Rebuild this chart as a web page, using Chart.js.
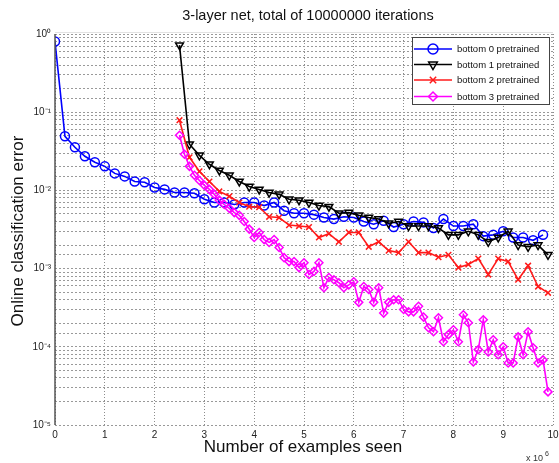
<!DOCTYPE html>
<html>
<head>
<meta charset="utf-8">
<script src="https://cdn.jsdelivr.net/npm/chart.js@4/dist/chart.umd.min.js"></script>
<style>
  body { margin: 0; background: #fff; }
  canvas { display: block; }
</style>
</head>
<body>
<canvas id="myChart" width="559" height="463"></canvas>
<script>
// x positions are in units of 10^6 examples
const bottom0X = [0, 0.2, 0.4, 0.6, 0.8, 1, 1.2, 1.4, 1.6, 1.8, 2, 2.2, 2.4, 2.6, 2.8, 3, 3.2, 3.4, 3.6, 3.8,
  4, 4.2, 4.4, 4.6, 4.8, 5, 5.2, 5.4, 5.6, 5.8, 6, 6.2, 6.4, 6.6, 6.8, 7, 7.2, 7.4, 7.6, 7.8,
  8, 8.2, 8.4, 8.6, 8.8, 9, 9.2, 9.4, 9.6, 9.8];
const bottom0Err = [0.80, 0.0492, 0.0356, 0.0273, 0.0229, 0.0203, 0.0165, 0.0151, 0.0130, 0.0127,
  0.0109, 0.0103, 0.0094, 0.0094, 0.0092, 0.0077, 0.0070, 0.0070, 0.0066, 0.0070,
  0.0070, 0.0064, 0.0070, 0.0055, 0.0051, 0.0051, 0.0049, 0.0045, 0.0043, 0.0046,
  0.0045, 0.0040, 0.0037, 0.0041, 0.0034, 0.0037, 0.0040, 0.0039, 0.0033, 0.0043,
  0.0035, 0.0035, 0.0037, 0.0026, 0.0027, 0.0030, 0.0025, 0.0025, 0.0023, 0.0027];

const laterX = [2.5, 2.7, 2.9, 3.1, 3.3, 3.5, 3.7, 3.9, 4.1, 4.3, 4.5, 4.7, 4.9, 5.1, 5.3, 5.5, 5.7, 5.9, 6.1,
  6.3, 6.5, 6.7, 6.9, 7.1, 7.3, 7.5, 7.7, 7.9, 8.1, 8.3, 8.5, 8.7, 8.9, 9.1, 9.3, 9.5, 9.7, 9.9];
const bottom1Err = [0.72, 0.0389, 0.0281, 0.0216, 0.0180, 0.0156, 0.0130, 0.0112, 0.0103, 0.0094,
  0.0089, 0.0077, 0.0075, 0.0070, 0.0064, 0.0062, 0.0051, 0.0052, 0.0048, 0.0045,
  0.0043, 0.0038, 0.0040, 0.0035, 0.0035, 0.0035, 0.0033, 0.0027, 0.0027, 0.0030,
  0.0027, 0.0022, 0.0025, 0.0030, 0.0020, 0.0019, 0.0020, 0.0015];
const bottom2Err = [0.079, 0.0265, 0.0175, 0.0130, 0.0097, 0.0084, 0.0070, 0.0062, 0.0061, 0.0046,
  0.0045, 0.0036, 0.0035, 0.0034, 0.0025, 0.0028, 0.0022, 0.0029, 0.0029, 0.0019,
  0.0022, 0.0017, 0.0016, 0.0022, 0.0016, 0.0016, 0.0014, 0.0015, 0.00103, 0.00113,
  0.00134, 0.00084, 0.00134, 0.00123, 0.00072, 0.00109, 0.00059, 0.00049];

const bottom3X = [2.5, 2.6, 2.7, 2.8, 2.9, 3, 3.1, 3.2, 3.3, 3.4, 3.5, 3.6, 3.7, 3.8, 3.9, 4, 4.1, 4.2, 4.3, 4.4,
  4.5, 4.6, 4.7, 4.8, 4.9, 5, 5.1, 5.2, 5.3, 5.4, 5.5, 5.6, 5.7, 5.8, 5.9, 6, 6.1, 6.2, 6.3, 6.4,
  6.5, 6.6, 6.7, 6.8, 6.9, 7, 7.1, 7.2, 7.3, 7.4, 7.5, 7.6, 7.7, 7.8, 7.9, 8, 8.1, 8.2, 8.3, 8.4,
  8.5, 8.6, 8.7, 8.8, 8.9, 9, 9.1, 9.2, 9.3, 9.4, 9.5, 9.6, 9.7, 9.8, 9.9];
const bottom3Err = [0.0507, 0.0290, 0.0203, 0.0156, 0.0134, 0.0116, 0.0103, 0.0089, 0.0075, 0.0066,
  0.0059, 0.0052, 0.0048, 0.0040, 0.0032, 0.0025, 0.0029, 0.00235, 0.00216, 0.00235,
  0.00186, 0.00138, 0.00123, 0.00123, 0.00103, 0.00119, 0.00084, 0.00092, 0.00119, 0.00057,
  0.00077, 0.00072, 0.00066, 0.00057, 0.00062, 0.00068, 0.00037, 0.00059, 0.00054, 0.00037,
  0.00057, 0.00027, 0.00037, 0.00040, 0.00040, 0.00030, 0.00028, 0.00028, 0.00033, 0.00024,
  0.000175, 0.000156, 0.000235, 0.000116, 0.000143, 0.000165, 0.000116, 0.000257, 0.000203, 0.000064,
  0.000092, 0.000222, 0.000086, 0.000123, 0.000079, 0.0001, 0.000062, 0.000062, 0.000134, 0.000079,
  0.000156, 0.000097, 0.000062, 0.000068, 0.0000265];

const xTicks = [0, 1, 2, 3, 4, 5, 6, 7, 8, 9, 10];
const seriesNames = ["bottom 0 pretrained", "bottom 1 pretrained", "bottom 2 pretrained", "bottom 3 pretrained"];
const titleText = "3-layer net, total of 10000000 iterations";

const FONT = '"Liberation Sans", Arial, sans-serif';
const sup = { "0": "\u2070", "1": "\u00b9", "2": "\u00b2", "3": "\u00b3", "4": "\u2074", "5": "\u2075", "-": "\u207b" };

function toPoints(xs, ys) {
  return xs.map((x, i) => ({ x: x, y: ys[i] }));
}

const styles = [
  { color: "#0000ff", pointStyle: "circle", radius: 4.5, rotation: 0 },
  { color: "#000000", pointStyle: "triangle", radius: 4.5, rotation: 180 },
  { color: "#ff1a1a", pointStyle: "crossRot", radius: 4, rotation: 0 },
  { color: "#ff00ff", pointStyle: "rectRot", radius: 4, rotation: 0 },
];

function makeSet(i, pts, order) {
  const s = styles[i];
  return {
    label: seriesNames[i],
    data: pts,
    borderColor: s.color,
    backgroundColor: "rgba(0,0,0,0)",
    borderWidth: 1.6,
    pointStyle: s.pointStyle,
    pointRotation: s.rotation,
    pointRadius: s.radius,
    pointBorderWidth: 1.5,
    pointBorderColor: s.color,
    pointBackgroundColor: "rgba(0,0,0,0)",
    tension: 0,
    order: order,
  };
}

const textPlugin = {
  id: "texts",
  afterDraw(chart) {
    const ctx = chart.ctx;
    const area = chart.chartArea;
    ctx.save();

    // axis lines: dark left axis, faint top edge
    ctx.strokeStyle = "#555";
    ctx.lineWidth = 1.5;
    ctx.beginPath();
    ctx.moveTo(area.left, area.top);
    ctx.lineTo(area.left, area.bottom);
    ctx.stroke();
    ctx.strokeStyle = "#e2e2e2";
    ctx.lineWidth = 1;
    ctx.beginPath();
    ctx.moveTo(area.left, area.top - 1.5);
    ctx.lineTo(area.right, area.top - 1.5);
    ctx.stroke();

    ctx.fillStyle = "#111";
    ctx.textAlign = "center";
    ctx.textBaseline = "middle";

    ctx.font = "14.5px " + FONT;
    ctx.fillText(titleText, 308, 16);

    ctx.font = "17px " + FONT;
    ctx.fillText("Number of examples seen", 303, 447);

    ctx.save();
    ctx.translate(18, 231);
    ctx.rotate(-Math.PI / 2);
    ctx.fillText("Online classification error", 0, 0);
    ctx.restore();

    ctx.font = "9px " + FONT;
    ctx.textAlign = "left";
    ctx.fillStyle = "#333";
    ctx.fillText("x 10", 526, 459);
    ctx.font = "7px " + FONT;
    ctx.fillText("6", 545, 454);

    // legend box
    const bx = 412, by = 37, bw = 137, bh = 67;
    ctx.fillStyle = "#fff";
    ctx.fillRect(bx, by, bw, bh);
    ctx.strokeStyle = "#444";
    ctx.lineWidth = 1;
    ctx.strokeRect(bx + 0.5, by + 0.5, bw, bh);

    const rows = [49, 64.5, 80, 96.5];
    ctx.font = "9.5px " + FONT;
    ctx.textBaseline = "middle";
    rows.forEach((y, i) => {
      const s = styles[i];
      ctx.strokeStyle = s.color;
      ctx.lineWidth = 1.6;
      ctx.beginPath();
      ctx.moveTo(414, y);
      ctx.lineTo(452, y);
      ctx.stroke();
      ctx.fillStyle = "rgba(0,0,0,0)";
      ctx.lineWidth = 1.5;
      Chart.helpers.drawPoint(ctx, {
        pointStyle: s.pointStyle, rotation: s.rotation, radius: s.radius + 0.5, borderWidth: 1.5
      }, 433, y);
      ctx.fillStyle = "#111";
      ctx.fillText(seriesNames[i], 457, y + 0.5);
    });
    ctx.restore();
  },
};

const ctx = document.getElementById("myChart").getContext("2d");
const myChart = new Chart(ctx, {
  type: "line",
  data: {
    datasets: [
      makeSet(0, toPoints(bottom0X, bottom0Err), 3),
      makeSet(1, toPoints(laterX, bottom1Err), 2),
      makeSet(2, toPoints(laterX, bottom2Err), 1),
      makeSet(3, toPoints(bottom3X, bottom3Err), 0),
    ],
  },
  options: {
    responsive: false,
    animation: false,
    events: [],
    layout: { padding: { left: 15, right: 4, top: 34, bottom: 18 } },
    plugins: {
      legend: { display: false },
      tooltip: { enabled: false },
    },
    scales: {
      x: {
        type: "linear",
        min: 0,
        max: 10,
        afterFit(s) { s.height = 20; s.paddingLeft = 0; s.paddingRight = 0; },
        afterBuildTicks(s) { s.ticks = xTicks.map(v => ({ value: v })); },
        ticks: {
          padding: 4,
          color: "#222",
          font: { family: FONT, size: 10 },
          maxRotation: 0,
          autoSkip: false,
        },
        grid: { color: "#8c8c8c", drawTicks: false, lineWidth: 1 },
        border: { display: false, dash: [1, 2] },
      },
      y: {
        type: "logarithmic",
        min: 1e-5,
        max: 1,
        afterFit(s) { s.width = 40; s.paddingTop = 0; s.paddingBottom = 0; },
        ticks: {
          padding: 4,
          color: "#222",
          autoSkip: false,
          font: { family: FONT, size: 10 },
          callback(value) {
            const e = Math.log10(value);
            if (Math.abs(e - Math.round(e)) > 1e-6) return "";
            return "10" + String(Math.round(e)).split("").map(c => sup[c]).join("");
          },
        },
        grid: { color: "#999", drawTicks: false, lineWidth: 1 },
        border: { display: false, dash: [2, 2] },
      },
    },
  },
  plugins: [textPlugin],
});
</script>
</body>
</html>
